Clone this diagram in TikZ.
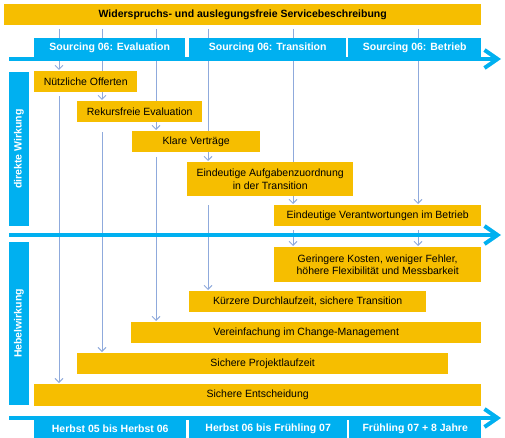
\documentclass[tikz,border=0pt]{standalone}
\usepackage{fontspec}
\setmainfont{Liberation Sans}
\usetikzlibrary{arrows.meta}
\definecolor{ora}{RGB}{246,190,0}
\definecolor{blu}{RGB}{0,176,240}
\definecolor{lin}{RGB}{143,170,220}
\pgfdeclarelayer{bg}
\pgfsetlayers{bg,main}
\tikzset{
  obox/.style={fill=ora, inner sep=0pt, anchor=north west, align=center, text=black,
    font=\fontsize{10.5}{12.5}\selectfont},
  bbox/.style={fill=blu, inner sep=0pt, anchor=north west, text=white,
    font=\fontsize{10.5}{12.5}\selectfont\bfseries},
  vbar/.style={fill=blu, inner sep=0pt, anchor=center, rotate=90, text=white,
    font=\fontsize{10.5}{12.5}\selectfont\bfseries},
  conn/.style={draw=lin, line width=0.9pt, shorten >=1pt,
    -{Straight Barb[length=4pt,width=8pt]}},
  timeline/.style={draw=blu, line width=4pt,
    -{Straight Barb[length=13pt,width=18pt]}},
}
\begin{document}
\begin{tikzpicture}[x=1pt,y=-1pt]
\useasboundingbox (0,0) rectangle (505,438);

% title
\node[obox, minimum width=477pt, minimum height=21pt, font=\fontsize{10.5}{12.5}\selectfont\bfseries] (title) at (4,4) {Widerspruchs- und auslegungsfreie Servicebeschreibung};

% header phases
\node[bbox, minimum width=151pt, minimum height=19pt] (hEval) at (34,38) {Sourcing 06: Evaluation};
\node[bbox, minimum width=157pt, minimum height=19pt] (hTrans) at (189,38) {Sourcing 06: Transition};
\node[bbox, minimum width=133pt, minimum height=19pt] (hBetr) at (348,38) {Sourcing 06: Betrieb};

% timelines
\coordinate (tlAs) at (9,59);  \coordinate (tlAe) at (501,59);
\coordinate (tlBs) at (9,235); \coordinate (tlBe) at (501,235);
\coordinate (tlCs) at (9,418); \coordinate (tlCe) at (501,418);
\draw[timeline] (tlAs) -- (tlAe);
\draw[timeline] (tlBs) -- (tlBe);
\draw[timeline] (tlCs) -- (tlCe);

% side bars
\node[vbar, minimum width=154pt, minimum height=20pt] (dw) at (19,149) {direkte Wirkung};
\node[vbar, minimum width=163pt, minimum height=20pt] (hw) at (19,323.5) {Hebelwirkung};

% effect boxes
\node[obox, minimum width=103pt, minimum height=21pt] (nuetz) at (34,71) {Nützliche Offerten};
\node[obox, minimum width=125pt, minimum height=21pt] (rekurs) at (77,101) {Rekursfreie Evaluation};
\node[obox, minimum width=128pt, minimum height=21pt] (klare) at (132,131) {Klare Verträge};
\node[obox, minimum width=166pt, minimum height=34pt] (aufg) at (187,162) {Eindeutige Aufgabenzuordnung\\in der Transition};
\node[obox, minimum width=207pt, minimum height=21pt] (verant) at (274,205) {Eindeutige Verantwortungen im Betrieb};
\node[obox, minimum width=207pt, minimum height=35pt] (gering) at (274,247) {Geringere Kosten, weniger Fehler,\\höhere Flexibilität und Messbarkeit};
\node[obox, minimum width=237pt, minimum height=21pt] (kuerz) at (189,291) {Kürzere Durchlaufzeit, sichere Transition};
\node[obox, minimum width=350pt, minimum height=21pt] (verein) at (131,322) {Vereinfachung im Change-Management};
\node[obox, minimum width=371pt, minimum height=21pt] (projekt) at (77,353) {Sichere Projektlaufzeit};
\node[obox, minimum width=447pt, minimum height=22pt] (entsch) at (34,384) {Sichere Entscheidung};

% bottom periods
\node[bbox, minimum width=152pt, minimum height=19pt] (bA) at (34,419) {Herbst 05 bis Herbst 06};
\node[bbox, minimum width=158pt, minimum height=19pt] (bB) at (189,419) {Herbst 06 bis Frühling 07};
\node[bbox, minimum width=132pt, minimum height=19pt] (bC) at (349,419) {Frühling 07 + 8 Jahre};

% vertical connectors (behind)
\coordinate (v1) at (59,29);
\coordinate (v2) at (102,29);
\coordinate (v3) at (156,29);
\coordinate (v4) at (208,29);
\coordinate (v5) at (293,29);
\coordinate (v6) at (418,29);
\begin{pgfonlayer}{bg}
\draw[conn] (v1) -- (v1 |- nuetz.north);
\draw[conn, shorten <=4pt] (v1 |- nuetz.south) -- (v1 |- entsch.north);
\draw[conn] (v2) -- (v2 |- rekurs.north);
\draw[conn, shorten <=10pt] (v2 |- rekurs.south) -- (v2 |- projekt.north);
\draw[conn] (v3) -- (v3 |- klare.north);
\draw[conn, shorten <=5pt] (v3 |- klare.south) -- (v3 |- verein.north);
\draw[conn] (v4) -- (v4 |- aufg.north);
\draw[conn, shorten <=9pt] (v4 |- aufg.south) -- (v4 |- kuerz.north);
\draw[conn] (v5) -- (v5 |- verant.north);
\draw[conn, shorten <=4pt] (v5 |- verant.south) -- (v5 |- gering.north);
\draw[conn] (v6) -- (v6 |- verant.north);
\draw[conn, shorten <=4pt] (v6 |- verant.south) -- (v6 |- gering.north);
\end{pgfonlayer}
\end{tikzpicture}
\end{document}
